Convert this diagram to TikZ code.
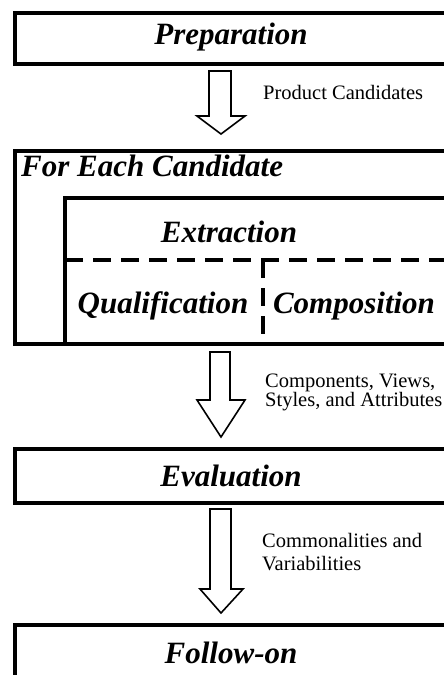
\documentclass[tikz,border=0pt]{standalone}
\usepackage{fontspec}
\setmainfont{Liberation Serif}
\begin{document}
\begin{tikzpicture}[x=1pt,y=-1pt]
\tikzset{
  box/.style={draw, line width=3.5pt, anchor=north west, inner sep=0pt, minimum width=470pt},
  title/.style={font=\fontsize{31}{34}\selectfont\bfseries\itshape, inner sep=0pt},
  lbl/.style={font=\fontsize{20.5}{19}\selectfont, align=left, anchor=west, inner sep=0pt},
  barrow/.style={draw, line width=1.6pt, fill=white, line join=miter},
  dline/.style={line width=3.5pt, dash pattern=on 18pt off 10pt}
}
\useasboundingbox (0,0) rectangle (444,675);
\clip (0,0) rectangle (444,675);
% boxes
\node[box, minimum height=51pt] (prep) at (13,11) {};
\node[box, minimum height=193pt] (each) at (13,149) {};
\draw[line width=3.5pt] (65,343) -- (65,198) -- (480,198);
\coordinate (inl) at (65,260);
\coordinate (inr) at (480,260);
\coordinate (vt) at (263,260);
\coordinate (vb) at (263,342);
\draw[dline] (inl) -- (inr);
\draw[dline] (vt) -- (vb);
\node[box, minimum height=54pt] (eval) at (13,447) {};
\node[box, minimum height=80pt] (follow) at (13,623) {};
% titles
\node[title] (tprep) at (231,37) {Preparation};
\node[title, anchor=west] (teach) at (21,166) {For Each Candidate};
\node[title] (textr) at (229,232) {Extraction};
\node[title] (tqual) at (163,306) {Qualification};
\node[title] (tcomp) at (354,306) {Composition};
\node[title] (teval) at (231,476) {Evaluation};
\node[title] (tfol) at (231,653) {Follow-on};
% block arrows
\draw[barrow] (209,71) -- (231,71) -- (231,116) -- (245,116) -- (221,134) -- (197,116) -- (209,116) -- cycle;
\draw[barrow] (210,352) -- (230,352) -- (230,400) -- (245,400) -- (221,437) -- (197,400) -- (210,400) -- cycle;
\draw[barrow] (210,509) -- (231,509) -- (231,589) -- (243,589) -- (221,613) -- (200,589) -- (210,589) -- cycle;
% labels
\node[lbl] (l1) at (263,92) {Product Candidates};
\node[lbl] (l2) at (265,392) {Components, Views,\\Styles, and Attributes};
\node[lbl, font=\fontsize{20.5}{23.5}\selectfont] (l3) at (262,552) {Commonalities and\\Variabilities};
\end{tikzpicture}
\end{document}
